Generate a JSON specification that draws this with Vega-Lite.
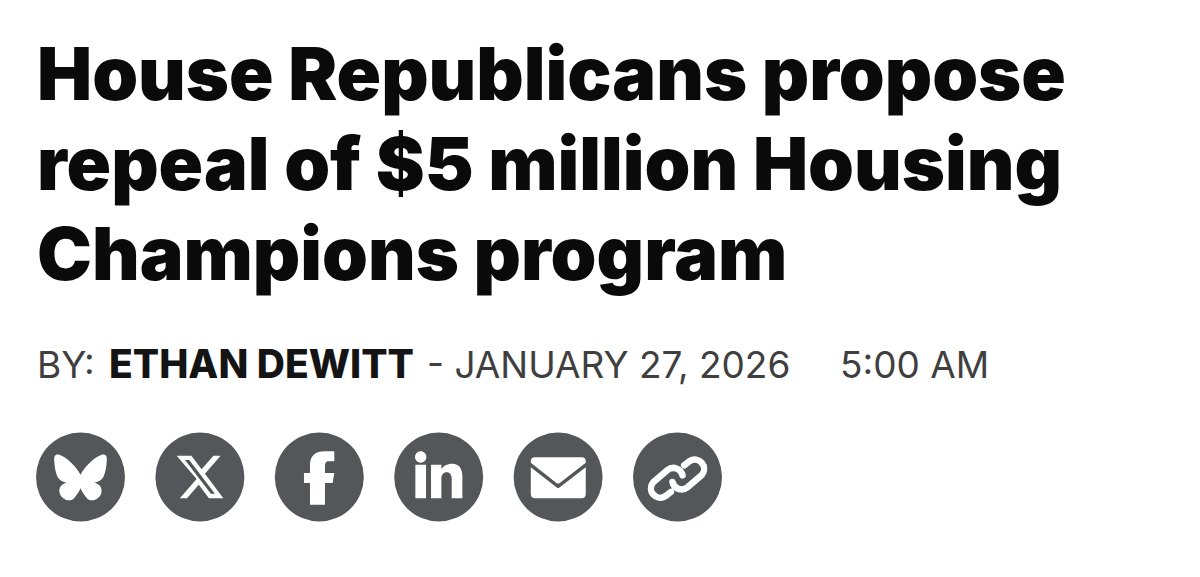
{"$schema":"https://vega.github.io/schema/vega-lite/v6.json","autosize":{"type":"fit","contains":"padding"},"width":1200,"height":577,"padding":0,"background":"white","view":{"stroke":null},
"datasets":{
"head":[{"t":"House Republicans propose","line":1,"slot":0},{"t":"repeal of $5 million Housing","line":2,"slot":0},{"t":"Champions program","line":3,"slot":0}],
"by":[{"t":"BY:","line":4,"slot":0},{"t":"- JANUARY 27, 2026","line":4,"slot":2},{"t":"5:00 AM","line":4,"slot":3}],
"name":[{"t":"ETHAN DEWITT","line":4,"slot":1}],
"icons":[{"n":"bluesky","i":0,"line":5},{"n":"x","i":1,"line":5},{"n":"facebook","i":2,"line":5},{"n":"linkedin","i":3,"line":5},{"n":"email","i":4,"line":5},{"n":"link","i":5,"line":5}]},
"resolve":{"scale":{"x":"independent","y":"shared","shape":"independent"}},
"layer":[
{"data":{"name":"head"},"mark":{"type":"text","align":"left","baseline":"alphabetic","font":"Inter","fontWeight":900,"fontSize":73.5,"color":"#0a0a0a"},
"encoding":{"text":{"field":"t"},"x":{"field":"slot","type":"quantitative","axis":null,"scale":{"domain":[0,1],"range":[37,109]}},"y":{"field":"line","type":"quantitative","axis":null,"scale":{"domain":[1,3,4,5],"range":[100,279.5,378,477]}}}},
{"data":{"name":"by"},"mark":{"type":"text","align":"left","baseline":"alphabetic","font":"Inter","fontSize":37,"color":"#3f3f3f"},
"encoding":{"text":{"field":"t"},"x":{"field":"slot","type":"quantitative","axis":null,"scale":{"domain":[0,2,3],"range":[37,427,840]}},"y":{"field":"line","type":"quantitative","axis":null}}},
{"data":{"name":"name"},"mark":{"type":"text","align":"left","baseline":"alphabetic","font":"Inter","fontWeight":800,"fontSize":39,"color":"#141414"},
"encoding":{"text":{"field":"t"},"x":{"field":"slot","type":"quantitative","axis":null,"scale":{"domain":[0,1],"range":[37,109]}},"y":{"field":"line","type":"quantitative","axis":null}}},
{"data":{"name":"icons"},"mark":{"type":"point","filled":true,"shape":"circle","size":7921,"color":"#55565a","opacity":1},
"encoding":{"x":{"field":"i","type":"quantitative","axis":null,"scale":{"domain":[0,5],"range":[80.5,677.5]}},"y":{"field":"line","type":"quantitative","axis":null}}},
{"data":{"name":"icons"},"transform":[{"filter":"datum.n !== 'link'"}],"mark":{"type":"point","filled":true,"size":0.4444,"color":"white","opacity":1},
"encoding":{"x":{"field":"i","type":"quantitative","axis":null,"scale":{"domain":[0,5],"range":[80.5,677.5]}},"y":{"field":"line","type":"quantitative","axis":null},
"shape":{"field":"n","type":"nominal","legend":null,"scale":{"domain":["bluesky","x","facebook","linkedin","email"],"range":[
"M0,-7 C-12,-30 -40,-58 -62,-66 C-72,-70 -80,-66 -79,-52 C-78,-35 -75,-5 -64,6 C-58,13 -45,17 -38,16 C-55,20 -68,30 -62,50 C-55,68 -30,78 -18,62 C-8,50 -2,40 0,33 C2,40 8,50 18,62 C30,78 55,68 62,50 C68,30 55,20 38,16 C45,17 58,13 64,6 C75,-5 78,-35 79,-52 C80,-66 72,-70 62,-66 C40,-58 12,-30 0,-7 Z",
"M40.6,-63.4 L62.1,-63.4 L15.1,-9.7 L70.4,63.4 L27.1,63.4 L-3.5,22.9 L-38.6,63.4 L-60.2,63.4 L-9.9,5.9 L-69.8,-63.4 L-25.5,-63.4 L5.2,-22.9 Z M33,50.5 L45,50.5 L-32,-51.2 L-44.7,-51.2 Z",
"M-28,-12 L-28,-35 C-28,-65 -10,-77 15,-77 L45,-77 L45,-47 L28,-47 C20,-47 17,-42 17,-33 L17,-12 L45,-12 L40,18 L17,18 L17,83 L-28,83 L-28,18 L-46,18 L-46,-12 Z",
"M-71,-60 A17,17 0 1,1 -37,-60 A17,17 0 1,1 -71,-60 Z M-70,-37 L-38,-37 L-38,64 L-70,64 Z M-23,-37 L8,-37 L8,-24 C14,-33 25,-40 40,-40 C62,-40 71,-24 71,-2 L71,64 L39,64 L39,5 C39,-6 34,-14 24,-14 C14,-14 8,-6 8,5 L8,64 L-23,64 Z",
"M-70,-59 L71,-59 Q83,-59 83,-47 L83,-43 L5,18 Q0,21 -5,18 L-82,-43 L-82,-47 Q-82,-59 -70,-59 Z M-82,-29 L-3,32 Q0,34 3,32 L83,-29 L83,50 Q83,64 69,64 L-68,64 Q-82,64 -82,50 Z"
]}}}},
{"data":{"name":"icons"},"transform":[{"filter":"datum.n === 'link'"}],"mark":{"type":"point","filled":false,"size":0.4444,"stroke":"white","strokeWidth":6.5,"strokeCap":"round","fill":null,"opacity":1},
"encoding":{"x":{"field":"i","type":"quantitative","axis":null,"scale":{"domain":[0,5],"range":[80.5,677.5]}},"y":{"field":"line","type":"quantitative","axis":null},
"shape":{"field":"n","type":"nominal","legend":null,"scale":{"domain":["link"],"range":["M20,-35 L37,-48 A28,28 0 0,1 73,-6 L30,31 A28,28 0 0,1 -15,15 M-20,45 L-37,58 A28,28 0 0,1 -73,16 L-30,-21 A28,28 0 0,1 15,-5"]}}}}
]}
